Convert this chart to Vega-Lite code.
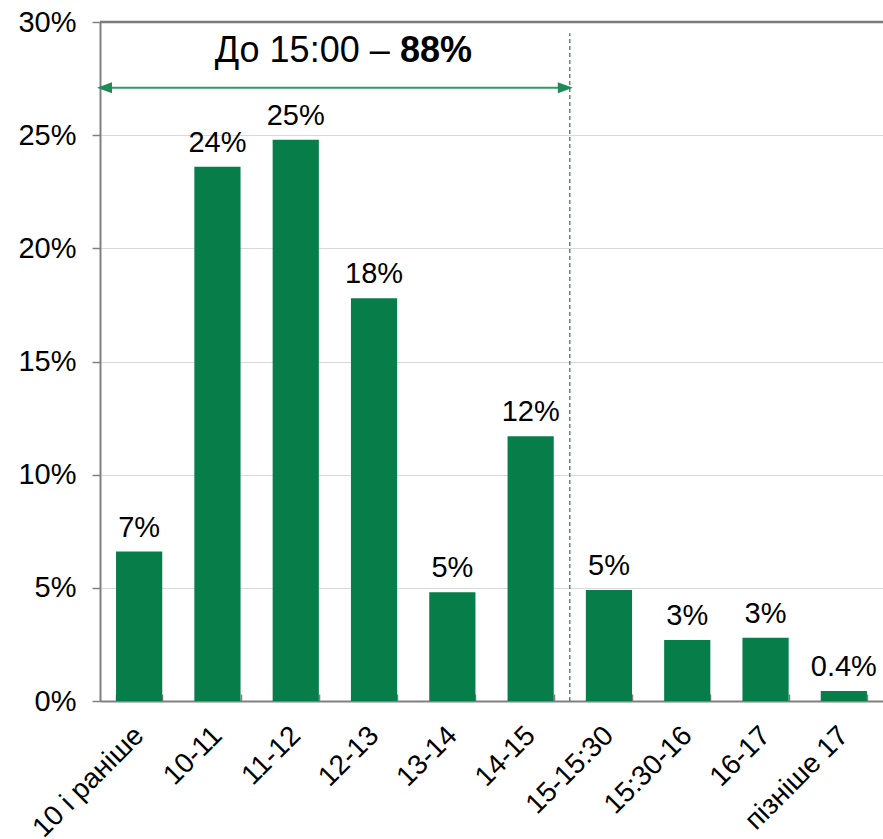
{
  "$schema": "https://vega.github.io/schema/vega-lite/v6.json",
  "autosize": {"type": "none"},
  "padding": {"left": 100, "top": 22, "right": 0, "bottom": 138},
  "width": 783,
  "height": 679,
  "background": "white",
  "config": {
    "view": {"stroke": null},
    "font": "Liberation Sans",
    "axis": {"labelFont": "Liberation Sans", "labelColor": "#000000"}
  },
  "datasets": {
    "bars": [
      {"cat": "10 і раніше", "value": 6.6, "label": "7%"},
      {"cat": "10-11", "value": 23.6, "label": "24%"},
      {"cat": "11-12", "value": 24.8, "label": "25%"},
      {"cat": "12-13", "value": 17.8, "label": "18%"},
      {"cat": "13-14", "value": 4.8, "label": "5%"},
      {"cat": "14-15", "value": 11.7, "label": "12%"},
      {"cat": "15-15:30", "value": 4.9, "label": "5%"},
      {"cat": "15:30-16", "value": 2.7, "label": "3%"},
      {"cat": "16-17", "value": 2.8, "label": "3%"},
      {"cat": "пізніше 17", "value": 0.44, "label": "0.4%"}
    ],
    "border": [{"x0": 0, "x1": 10, "y": 30}],
    "arrow": [{"x0": 0, "x1": 6, "y": 27.1}],
    "headLeft": [{"x": 0, "y": 27.1}],
    "headRight": [{"x": 6, "y": 27.1}],
    "divider": [{"x": 6, "y0": 0, "y1": 29.5}],
    "titleNormal": [{"x": 3.7, "y": 28.7, "text": "До 15:00 –"}],
    "titleBold": [{"x": 3.83, "y": 28.7, "text": "88%"}]
  },
  "layer": [
    {
      "data": {"name": "bars"},
      "layer": [
        {
          "mark": {"type": "bar", "color": "#077D4A"},
          "encoding": {
            "x": {
              "field": "cat", "type": "nominal", "sort": null,
              "scale": {"paddingInner": 0.41, "paddingOuter": 0.205},
              "axis": {
                "title": null, "labelAngle": -45, "labelAlign": "right", "labelBaseline": "middle",
                "labelFontSize": 28, "labelPadding": 37,
                "domainColor": "#808080", "domainWidth": 2,
                "tickBand": "extent", "tickSize": -7, "tickColor": "#808080", "tickWidth": 1.5,
                "grid": false
              }
            },
            "y": {
              "field": "value", "type": "quantitative",
              "scale": {"domain": [0, 30], "nice": false},
              "axis": {
                "title": null, "values": [0, 5, 10, 15, 20, 25, 30],
                "labelExpr": "datum.value + '%'", "labelFontSize": 29, "labelPadding": 16,
                "domainColor": "#808080", "domainWidth": 2,
                "tickColor": "#808080", "tickSize": 8, "tickWidth": 1.5,
                "gridColor": "#D9D9D9", "gridWidth": 1
              }
            }
          }
        },
        {
          "mark": {"type": "text", "fontSize": 29, "baseline": "alphabetic", "dy": -15, "color": "#000000"},
          "encoding": {
            "x": {"field": "cat", "type": "nominal", "sort": null},
            "y": {"field": "value", "type": "quantitative"},
            "text": {"field": "label"}
          }
        }
      ]
    },
    {
      "layer": [
        {
          "data": {"name": "border"},
          "mark": {"type": "rule", "color": "#7A7A7A", "strokeWidth": 2.5},
          "encoding": {
            "x": {"field": "x0", "type": "quantitative", "scale": {"domain": [0, 10], "nice": false}, "axis": null},
            "x2": {"field": "x1"},
            "y": {"field": "y", "type": "quantitative"}
          }
        },
        {
          "data": {"name": "arrow"},
          "mark": {"type": "rule", "color": "#2E9B64", "strokeWidth": 2},
          "encoding": {
            "x": {"field": "x0", "type": "quantitative"},
            "x2": {"field": "x1"},
            "y": {"field": "y", "type": "quantitative"}
          }
        },
        {
          "data": {"name": "headLeft"},
          "mark": {"type": "point", "filled": true, "color": "#1E8A55", "size": 100, "opacity": 1, "shape": "M-0.6,0L2.4,-1.1L2.4,1.1Z"},
          "encoding": {
            "x": {"field": "x", "type": "quantitative"},
            "y": {"field": "y", "type": "quantitative"}
          }
        },
        {
          "data": {"name": "headRight"},
          "mark": {"type": "point", "filled": true, "color": "#1E8A55", "size": 100, "opacity": 1, "shape": "M0.6,0L-2.4,-1.1L-2.4,1.1Z"},
          "encoding": {
            "x": {"field": "x", "type": "quantitative"},
            "y": {"field": "y", "type": "quantitative"}
          }
        },
        {
          "data": {"name": "divider"},
          "mark": {"type": "rule", "color": "#1E7D4E", "strokeWidth": 1.2, "strokeDash": [4, 3]},
          "encoding": {
            "x": {"field": "x", "type": "quantitative"},
            "y": {"field": "y0", "type": "quantitative"},
            "y2": {"field": "y1"}
          }
        },
        {
          "data": {"name": "titleNormal"},
          "mark": {"type": "text", "fontSize": 36, "baseline": "middle", "align": "right", "color": "#000000"},
          "encoding": {
            "x": {"field": "x", "type": "quantitative"},
            "y": {"field": "y", "type": "quantitative"},
            "text": {"field": "text"}
          }
        },
        {
          "data": {"name": "titleBold"},
          "mark": {"type": "text", "fontSize": 36, "baseline": "middle", "align": "left", "fontWeight": "bold", "color": "#000000"},
          "encoding": {
            "x": {"field": "x", "type": "quantitative"},
            "y": {"field": "y", "type": "quantitative"},
            "text": {"field": "text"}
          }
        }
      ]
    }
  ],
  "resolve": {"scale": {"x": "independent"}}
}
